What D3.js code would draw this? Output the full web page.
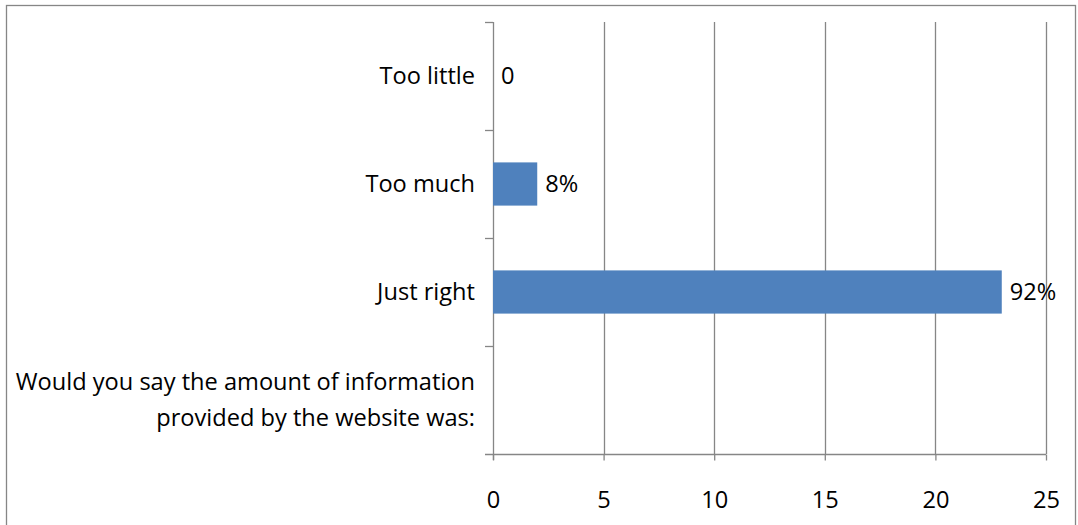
<!DOCTYPE html>
<html>
<head>
<meta charset="utf-8">
<script src="https://cdn.jsdelivr.net/npm/d3@7"></script>
<style>
  html, body { margin: 0; padding: 0; background: #fff; }
  svg { display: block; }
  text { font-family: "Open Sans", "Noto Sans", sans-serif; fill: #000; }
</style>
</head>
<body>
<svg id="chart" width="1078" height="525"></svg>
<script>
// Survey responses (counts) for each answer, top to bottom
const categories = ["Too little", "Too much", "Just right",
  "Would you say the amount of information provided by the website was:"];
const counts = [0, 2, 23, null];
const totalResponses = 25;
const xTicks = [0, 5, 10, 15, 20, 25];

// Value label: share of all responses; a zero count is shown as a plain 0
const valueLabel = v => v === 0 ? "0" : d3.format(".0%")(v / totalResponses);

const svg = d3.select("#chart");
const plot = { left: 493, right: 1046, top: 22, bottom: 454 };
const fontSize = 23.6;

// Outer chart frame
svg.append("rect")
  .attr("x", 6.5).attr("y", 5.5)
  .attr("width", 1069).attr("height", 530)
  .attr("fill", "#fff").attr("stroke", "#868686").attr("stroke-width", 1.3);

const x = d3.scaleLinear().domain([0, 25]).range([plot.left, plot.right]);
const y = d3.scaleBand().domain(categories)
  .range([plot.top, plot.bottom]).paddingInner(0.6).paddingOuter(0.3);

// Vertical gridlines
svg.append("g").selectAll("line")
  .data(xTicks.slice(1))
  .join("line")
  .attr("x1", d => Math.round(x(d)) + 0.5).attr("x2", d => Math.round(x(d)) + 0.5)
  .attr("y1", plot.top).attr("y2", plot.bottom)
  .attr("stroke", "#868686").attr("stroke-width", 1.3);

// Bottom axis
const xAxis = svg.append("g")
  .attr("transform", `translate(0,${plot.bottom + 0.5})`)
  .call(d3.axisBottom(x).tickValues(xTicks).tickSize(6).tickPadding(31).tickSizeOuter(0));
xAxis.select(".domain").attr("stroke", "#868686").attr("stroke-width", 1.3)
  .attr("d", `M${plot.left - 8},0H${plot.right}`);
xAxis.selectAll(".tick line").attr("stroke", "#868686").attr("stroke-width", 1.3);
xAxis.selectAll(".tick text")
  .style("font-family", '"Open Sans", sans-serif')
  .attr("font-size", fontSize).attr("fill", "#000");

// Left axis: category separators
const step = y.step();
const sepYs = d3.range(categories.length).map(i => plot.top + i * step);
const yAxisG = svg.append("g");
yAxisG.append("line")
  .attr("x1", plot.left + 0.5).attr("x2", plot.left + 0.5)
  .attr("y1", plot.top).attr("y2", plot.bottom + 6)
  .attr("stroke", "#868686").attr("stroke-width", 1.3);
yAxisG.selectAll("line.sep")
  .data(sepYs)
  .join("line").attr("class", "sep")
  .attr("x1", plot.left - 8).attr("x2", plot.left)
  .attr("y1", d => Math.round(d) + 0.5).attr("y2", d => Math.round(d) + 0.5)
  .attr("stroke", "#868686").attr("stroke-width", 1.3);

// Category labels (long question wraps onto two lines)
const wrapLines = c => c.length > 30
  ? ["Would you say the amount of information", "provided by the website was:"]
  : [c];
const lineGap = 36;
svg.append("g").selectAll("text")
  .data(categories)
  .join("text")
  .attr("text-anchor", "end")
  .attr("font-size", fontSize)
  .each(function (c) {
    const lines = wrapLines(c);
    const cy = y(c) + y.bandwidth() / 2;
    const t = d3.select(this);
    lines.forEach((ln, i) => {
      t.append("tspan")
        .attr("x", plot.left - 18)
        .attr("y", cy + (i - (lines.length - 1) / 2) * lineGap)
        .attr("dy", "0.36em")
        .text(ln);
    });
  });

// Bars
const rows = categories.map((c, i) => ({ c, v: counts[i] })).filter(d => d.v !== null);
svg.append("g").selectAll("rect")
  .data(rows)
  .join("rect")
  .attr("x", x(0))
  .attr("y", d => y(d.c))
  .attr("width", d => x(d.v) - x(0))
  .attr("height", y.bandwidth())
  .attr("fill", "#4F81BD");

// Value labels
svg.append("g").selectAll("text")
  .data(rows)
  .join("text")
  .attr("x", d => x(d.v) + 8)
  .attr("y", d => y(d.c) + y.bandwidth() / 2)
  .attr("dy", "0.36em")
  .attr("font-size", fontSize)
  .text(d => valueLabel(d.v));
</script>
</body>
</html>
